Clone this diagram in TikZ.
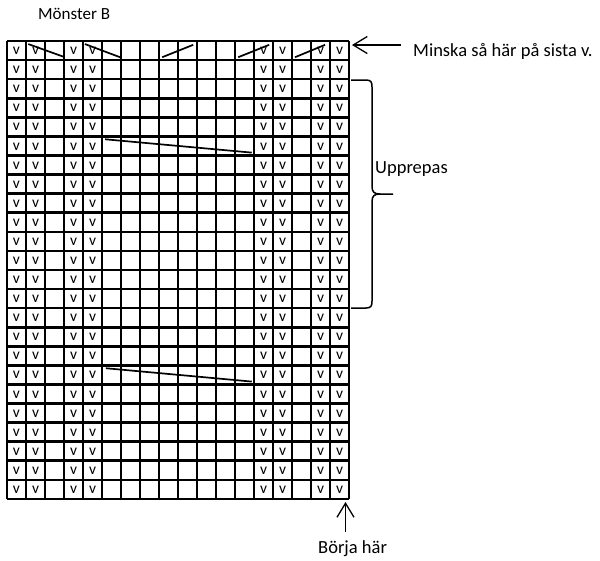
\documentclass[tikz,border=0pt]{standalone}
\usepackage{fontspec}
\setmainfont{Carlito}
\usetikzlibrary{arrows.meta}

\begin{document}
\begin{tikzpicture}[x=1pt, y=-1pt,
  ruta/.style={line width=2.6pt},
  snett/.style={line width=1.7pt},
  vmark/.style={inner sep=0pt, font=\fontsize{15.5}{15.5}\selectfont},
  etikett/.style={anchor=base west, inner sep=0pt, font=\fontsize{18.5}{22}\selectfont},
  pil/.style={line width=1.3pt, -{Straight Barb[length=14pt, width=17pt, line width=1.3pt]}}]

  \useasboundingbox (0,0) rectangle (600,560);

  % rutnät 18 x 24, origo i övre vänstra hörnet
  \begin{scope}[shift={(7,41)}, x=19pt, y=-19.08pt]
    \foreach \c in {1,2,4,5,14,15,17,18}
      \foreach \r in {1,...,24}
        \node[vmark] at (\c-0.5,\r-0.48) {v};
    \foreach \i in {0,...,18}
      \draw[ruta] (\i,0) -- (\i,24);
    \foreach \j in {0,...,24}
      \draw[ruta] (0,\j) -- (18,\j);

    % minskningar i översta raden
    \draw[snett] (1.12,0.16) -- (2.96,0.82);
    \draw[snett] (4.10,0.16) -- (5.95,0.85);
    \draw[snett] (8.17,0.85) -- (9.80,0.20);
    \draw[snett] (12.17,0.85) -- (13.80,0.20);
    \draw[snett] (15.16,0.85) -- (16.74,0.20);

    % långa sneda linjer
    \draw[snett] (5.16,5.15) -- (12.88,5.85);
    \draw[snett] (5.20,17.15) -- (12.88,17.85);
  \end{scope}

  % texter
  \node[etikett, font=\fontsize{17}{20}\selectfont] (rubrik) at (38,19.5) {Mönster B};
  \node[etikett] (minska) at (413,56.5) {Minska så här på sista v.};
  \node[etikett] (upprepas) at (375,173.5) {Upprepas};
  \node[etikett] (borja) at (318,553) {Börja här};

  % pilar
  \coordinate (minskaSvans) at (401,45);
  \coordinate (minskaSpets) at (352,45);
  \draw[pil] (minskaSvans) -- (minskaSpets);
  \coordinate (borjaSvans) at (345.5,532);
  \coordinate (borjaSpets) at (345.5,502);
  \draw[pil] (borjaSvans) -- (borjaSpets);

  % klammer
  \draw[line width=1.5pt] (351,80) -- (366,80)
    .. controls (371,80) and (372,82) .. (372,87) -- (372,186)
    .. controls (372,192) and (374,194) .. (380,194) -- (393,194);
  \draw[line width=1.5pt] (380,194)
    .. controls (374,194) and (372,196) .. (372,202) -- (372,301)
    .. controls (372,306) and (371,308) .. (366,308) -- (351,308);
\end{tikzpicture}
\end{document}
